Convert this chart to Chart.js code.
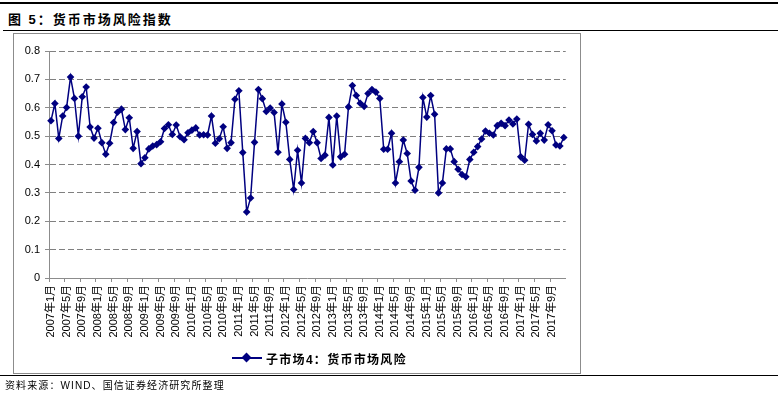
<!DOCTYPE html>
<html lang="zh">
<head>
<meta charset="UTF-8">
<title>货币市场风险指数</title>
<script src="https://cdn.jsdelivr.net/npm/chart.js"></script>
<style>
    html, body { margin: 0; padding: 0; background: #fff; }
    body { width: 778px; height: 394px; position: relative; overflow: hidden;
           font-family: "Liberation Sans", Arial, "Noto Sans CJK SC", sans-serif; }
    .rule { position: absolute; left: 0; width: 778px; background: #000; }
    #title { position: absolute; left: 8px; top: 9px; font-size: 13px; font-weight: bold; color: #000; white-space: nowrap; letter-spacing: 2px; }
    #source { position: absolute; left: 5px; top: 377px; font-size: 10px; color: #000; white-space: nowrap; letter-spacing: 1.1px; }
    #box { position: absolute; left: 13px; top: 33px; width: 567px; height: 340px; }
    #frame { position: absolute; left: 13px; top: 33px; width: 566px; height: 339px; border: 1px solid #8c8c8c; pointer-events: none; }
    #legend { position: absolute; left: 232px; top: 350px; height: 16px; font-size: 12px; font-weight: bold; color: #000; white-space: nowrap; }
    #legend .mk { position: absolute; left: 0; top: 7px; width: 30px; height: 2px; background: #000080; }
    #legend .dm { position: absolute; left: 11px; top: 4px; width: 7px; height: 7px; background: #000080; transform: rotate(45deg); }
    #legend .tx { position: absolute; left: 34px; top: 0; letter-spacing: 1.3px; }
</style>
</head>
<body>
<div class="rule" style="top:2px;height:2px"></div>
<div id="title">图 5：货币市场风险指数</div>
<div class="rule" style="top:30px;height:1px;left:3px"></div>
<div id="box"><canvas id="myChart" width="567" height="340"></canvas></div>
<div id="frame"></div>
<div id="legend"><span class="mk"></span><span class="dm"></span><span class="tx">子市场4：货币市场风险</span></div>
<div class="rule" style="top:375px;height:1px"></div>
<div id="source">资料来源：WIND、国信证券经济研究所整理</div>
<script>
    const startYear = 2007;
    const endYear = 2017;
    const seriesName = '子市场4：货币市场风险';
    const yTicks = [0, 0.1, 0.2, 0.3, 0.4, 0.5, 0.6, 0.7, 0.8];

    // monthly index, 2007-01 .. 2017-12
    const riskValues = [
        0.554, 0.615, 0.492, 0.571, 0.601, 0.708, 0.633, 0.500, 0.639, 0.673, 0.532, 0.493,
        0.528, 0.477, 0.436, 0.475, 0.548, 0.584, 0.595, 0.523, 0.565, 0.457, 0.516, 0.403,
        0.424, 0.455, 0.465, 0.470, 0.480, 0.527, 0.540, 0.506, 0.539, 0.498, 0.487, 0.512,
        0.521, 0.529, 0.504, 0.505, 0.504, 0.571, 0.475, 0.491, 0.533, 0.457, 0.477, 0.630,
        0.660, 0.442, 0.233, 0.282, 0.478, 0.664, 0.632, 0.587, 0.599, 0.583, 0.443, 0.613,
        0.549, 0.418, 0.312, 0.450, 0.335, 0.492, 0.477, 0.516, 0.477, 0.421, 0.433, 0.566,
        0.398, 0.571, 0.427, 0.436, 0.603, 0.678, 0.643, 0.616, 0.605, 0.650, 0.664, 0.655,
        0.633, 0.454, 0.454, 0.510, 0.335, 0.410, 0.486, 0.439, 0.342, 0.309, 0.390, 0.636,
        0.567, 0.643, 0.577, 0.300, 0.335, 0.455, 0.455, 0.410, 0.383, 0.365, 0.357, 0.418,
        0.443, 0.463, 0.490, 0.518, 0.510, 0.504, 0.537, 0.545, 0.537, 0.557, 0.543, 0.560,
        0.427, 0.415, 0.542, 0.506, 0.483, 0.510, 0.486, 0.540, 0.519, 0.469, 0.465, 0.495
    ];

    const months = [];
    for (let y = startYear; y <= endYear; y++) {
        for (let m = 1; m <= 12; m++) months.push(`${y}年${m}月`);
    }

    const axisGrey = '#8c8c8c';
    const tickFont = { family: '"Liberation Sans", Arial, "Noto Sans CJK SC", sans-serif', size: 11 };

    new Chart(document.getElementById('myChart'), {
        type: 'line',
        data: {
            labels: months,
            datasets: [{
                label: seriesName,
                data: riskValues,
                borderColor: '#000080',
                backgroundColor: '#000080',
                borderWidth: 1.5,
                pointStyle: 'rectRot',
                pointRadius: 3.8,
                pointBorderWidth: 0,
                tension: 0
            }]
        },
        options: {
            responsive: false,
            animation: false,
            layout: { padding: { top: 18, right: 0, bottom: 33, left: 0 } },
            plugins: { legend: { display: false }, tooltip: { enabled: false } },
            scales: {
                x: {
                    offset: true,
                    grid: {
                        offset: true,
                        drawOnChartArea: false,
                        tickLength: 4,
                        tickColor: c => (c.index % 4 === 0 ? axisGrey : 'rgba(0,0,0,0)')
                    },
                    border: { color: axisGrey, width: 1 },
                    ticks: {
                        autoSkip: false,
                        maxRotation: 90,
                        minRotation: 90,
                        padding: 3,
                        color: '#000',
                        font: tickFont,
                        callback: (v, i) => (i % 4 === 0 ? months[i] : '')
                    },
                    afterFit: s => { s.height = 62; }
                },
                y: {
                    min: 0,
                    max: 0.8,
                    afterBuildTicks: s => { s.ticks = yTicks.map(v => ({ value: v })); },
                    grid: {
                        color: c => (c.tick && c.tick.value === 0 ? 'rgba(0,0,0,0)' : '#808080'),
                        lineWidth: 1,
                        tickLength: 4,
                        tickColor: axisGrey,
                        tickBorderDash: []
                    },
                    border: { color: axisGrey, width: 1, dash: [6, 3] },
                    ticks: {
                        padding: 5,
                        color: '#000',
                        font: tickFont,
                        callback: v => String(v)
                    },
                    afterFit: s => { s.width = 36; }
                }
            }
        }
    });
</script>
</body>
</html>
